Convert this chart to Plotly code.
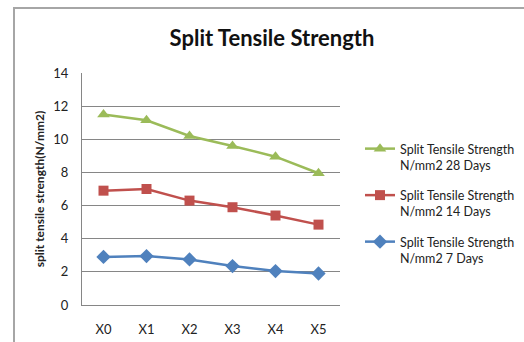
import plotly.graph_objects as go

categories = ["X0", "X1", "X2", "X3", "X4", "X5"]
days_28 = [11.5, 11.15, 10.2, 9.6, 8.95, 7.95]
days_14 = [6.9, 7.0, 6.3, 5.9, 5.4, 4.85]
days_7 = [2.9, 2.95, 2.75, 2.35, 2.05, 1.9]
y_ticks = [0, 2, 4, 6, 8, 10, 12, 14]

series = [
    ("Split Tensile Strength<br>N/mm2 28 Days", days_28, "#9BBB59", "triangle-up", 11),
    ("Split Tensile Strength<br>N/mm2 14 Days", days_14, "#C0504D", "square", 10),
    ("Split Tensile Strength<br>N/mm2 7 Days", days_7, "#4F81BD", "diamond", 11),
]

font_family = "Lato, 'Open Sans', sans-serif"

fig = go.Figure()
for i, (name, vals, color, symbol, size) in enumerate(series):
    fig.add_trace(go.Scatter(
        x=categories, y=vals, name=name, mode="lines+markers",
        legendgroup=f"g{i}",
        line=dict(color=color, width=2.5),
        marker=dict(symbol=symbol, size=size, color=color),
    ))

L, R, T, B = 82, 184, 73, 37
W, H = 524, 342
pw, ph = W - L - R, H - T - B

fig.update_layout(
    width=W, height=H,
    margin=dict(l=L, r=R, t=T, b=B, autoexpand=False),
    paper_bgcolor="white", plot_bgcolor="white",
    font=dict(family=font_family, size=12, color="#222"),
    title=dict(text="<b>Split Tensile Strength</b>", x=(272) / W, xanchor="center",
               y=1 - 38 / H, yanchor="middle",
               font=dict(size=22, color="#111", family=font_family)),
    showlegend=True,
    legend=dict(x=(360 - L) / pw, y=(305 - 134) / ph, xanchor="left", yanchor="top",
                font=dict(size=12.5, color="#222", family=font_family),
                tracegroupgap=11, valign="top", itemwidth=30,
                bgcolor="rgba(0,0,0,0)"),
    xaxis=dict(
        type="category", showline=True, linecolor="#868686", linewidth=1,
        showgrid=False, ticks="", ticklabelstandoff=12, automargin=False,
        tickfont=dict(size=13, color="#222"), range=[-0.5, 5.5],
    ),
    yaxis=dict(
        range=[0, 14], tickvals=y_ticks, showline=True, linecolor="#868686", linewidth=1,
        showgrid=True, gridcolor="#868686", gridwidth=1, ticks="", automargin=False,
        ticklabelstandoff=10, tickfont=dict(size=13, color="#222"),
        title=dict(text="<b>split tensile strength(N/mm2)</b>", standoff=6,
                   font=dict(size=12, color="#222")),
        zeroline=False,
    ),
    shapes=[dict(
        type="rect", xref="paper", yref="paper",
        x0=(14 - L) / pw, x1=(W + 10 - L) / pw,
        y0=-(H + 10 - 305) / ph, y1=(305 - 8) / ph,
        line=dict(color="#A6A6A6", width=2), fillcolor="rgba(0,0,0,0)", layer="below",
    )],
)

fig.write_html("out.html")
